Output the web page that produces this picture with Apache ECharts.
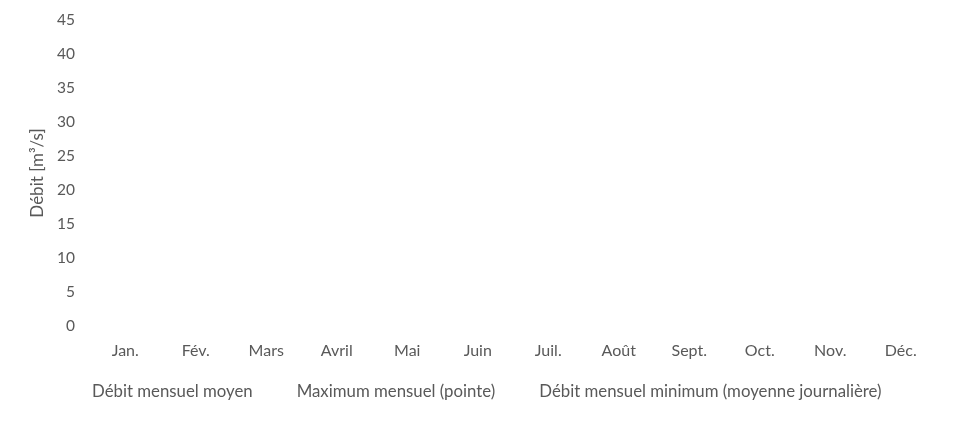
<!DOCTYPE html>
<html><head><meta charset="utf-8">
<script src="https://cdn.jsdelivr.net/npm/echarts@6/dist/echarts.min.js"></script>
<style>html,body{margin:0;padding:0;background:#fff}#c{width:960px;height:421px}</style>
</head><body><div id="c"></div>
<script>
const categories = ['Jan.','Fév.','Mars','Avril','Mai','Juin','Juil.','Août','Sept.','Oct.','Nov.','Déc.'];
const yTicks = [0,5,10,15,20,25,30,35,40,45];
const seriesNames = ['Débit mensuel moyen','Maximum mensuel (pointe)','Débit mensuel minimum (moyenne journalière)'];
const debitMoyen = [null,null,null,null,null,null,null,null,null,null,null,null];
const maximumMensuel = [null,null,null,null,null,null,null,null,null,null,null,null];
const debitMinimum = [null,null,null,null,null,null,null,null,null,null,null,null];

const chart = echarts.init(document.getElementById('c'));
const txt = {color:'#595959', fontFamily:'Lato', fontSize:16};
chart.setOption({
  animation:false,
  grid:{left:90,right:24,top:20,bottom:95},
  legend:{left:82,top:378,itemGap:39,itemWidth:0,itemHeight:0,icon:'none',
    textStyle:{color:'#595959', fontFamily:'Lato', fontSize:16.8},
    data:seriesNames},
  xAxis:{type:'category',data:categories,axisLine:{show:false},axisTick:{show:false},
    axisLabel:Object.assign({margin:17},txt)},
  yAxis:{type:'value',min:yTicks[0],max:yTicks[yTicks.length-1],interval:5,
    splitLine:{show:false},axisLine:{show:false},axisTick:{show:false},
    axisLabel:Object.assign({margin:15},txt,{fontSize:15.5}),
    name:'Débit [m³/s]',nameLocation:'middle',nameGap:42,nameRotate:90,
    nameTextStyle:Object.assign({},txt,{fontSize:17})},
  series:[
    {name:seriesNames[0],type:'line',data:debitMoyen},
    {name:seriesNames[1],type:'line',data:maximumMensuel},
    {name:seriesNames[2],type:'line',data:debitMinimum}
  ]
});
</script></body></html>
